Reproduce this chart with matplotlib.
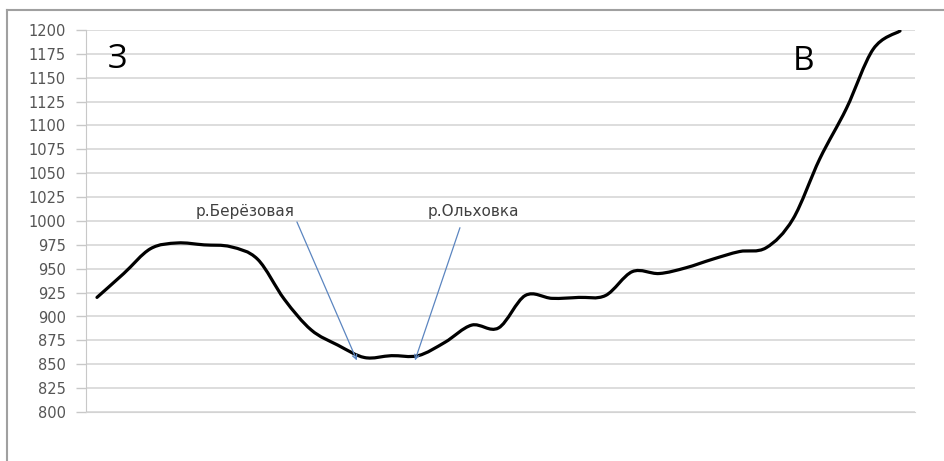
import matplotlib
matplotlib.use("Agg")
import matplotlib.pyplot as plt
from matplotlib.path import Path
from matplotlib.patches import PathPatch
import numpy as np

elevation = [920, 945, 971, 977, 975, 973, 960, 918, 886, 870, 857, 859, 859, 873, 891,
             888, 922, 919, 920, 922, 947, 945, 951, 960, 968, 972, 1002, 1065, 1118, 1180, 1199]
y_ticks = list(range(800, 1201, 25))
river_labels = ["р.Берёзовая", "р.Ольховка"]
side_labels = ["З", "В"]

plt.rcParams['font.family'] = ['DejaVu Sans']

fig = plt.figure(figsize=(9.44, 4.61), dpi=100)
ax = fig.add_axes([86/944, 1-412/461, (915-86)/944, (412-30)/461])

n = len(elevation)
xs = np.arange(n, dtype=float)
ys = np.array(elevation, dtype=float)

# smoothed line (Bezier through data points, like spreadsheet "smoothed line")
verts = [(xs[0], ys[0])]
codes = [Path.MOVETO]
for i in range(n - 1):
    p0 = np.array([xs[max(i-1, 0)], ys[max(i-1, 0)]])
    p1 = np.array([xs[i], ys[i]])
    p2 = np.array([xs[i+1], ys[i+1]])
    p3 = np.array([xs[min(i+2, n-1)], ys[min(i+2, n-1)]])
    c1 = p1 + (p2 - p0) / 6.0
    c2 = p2 - (p3 - p1) / 6.0
    verts += [tuple(c1), tuple(c2), tuple(p2)]
    codes += [Path.CURVE4] * 3
ax.add_patch(PathPatch(Path(verts, codes), facecolor='none', edgecolor='black', lw=2.3,
                       capstyle='round', joinstyle='round', zorder=3))

ax.set_xlim(-0.41, n - 1 + 0.56)
ax.set_ylim(800, 1200)
ax.set_yticks(y_ticks)
ax.set_xticks([])
ax.grid(axis='y', color='#d3d3d3', lw=1.1)
ax.set_axisbelow(True)
for s in ['top', 'right']:
    ax.spines[s].set_visible(False)
ax.spines['left'].set_color('#c8c8c8')
ax.spines['bottom'].set_color('#d3d3d3')
ax.tick_params(axis='y', colors='#c8c8c8', labelcolor='#555555', labelsize=10.5, length=7, width=1, pad=7.5)

# annotations
arrow_kw = dict(arrowstyle='->', color='#5b85c0', lw=0.9, shrinkA=0, shrinkB=0, mutation_scale=8)
ax.annotate("", xy=(9.71, 854), xytext=(7.47, 999), arrowprops=arrow_kw)
ax.annotate("", xy=(11.88, 854), xytext=(13.56, 993), arrowprops=arrow_kw)
ax.text(5.53, 1010, river_labels[0], ha='center', va='center', fontsize=11, color='#404040')
ax.text(14.05, 1010, river_labels[1], ha='center', va='center', fontsize=11, color='#404040')
ax.text(0.78, 1169, side_labels[0], ha='center', va='center', fontsize=24, color='black',
        family=['Open Sans', 'DejaVu Sans'])
ax.text(26.4, 1167, side_labels[1], ha='center', va='center', fontsize=24, color='black',
        family=['Open Sans', 'DejaVu Sans'])

# outer frame
fig.add_artist(plt.Line2D([7/944, 1], [1-10/461, 1-10/461], color='#a0a0a0', lw=1.5))
fig.add_artist(plt.Line2D([7/944, 7/944], [0, 1-10/461], color='#a0a0a0', lw=1.5))

fig.savefig("out.png", dpi=100)
